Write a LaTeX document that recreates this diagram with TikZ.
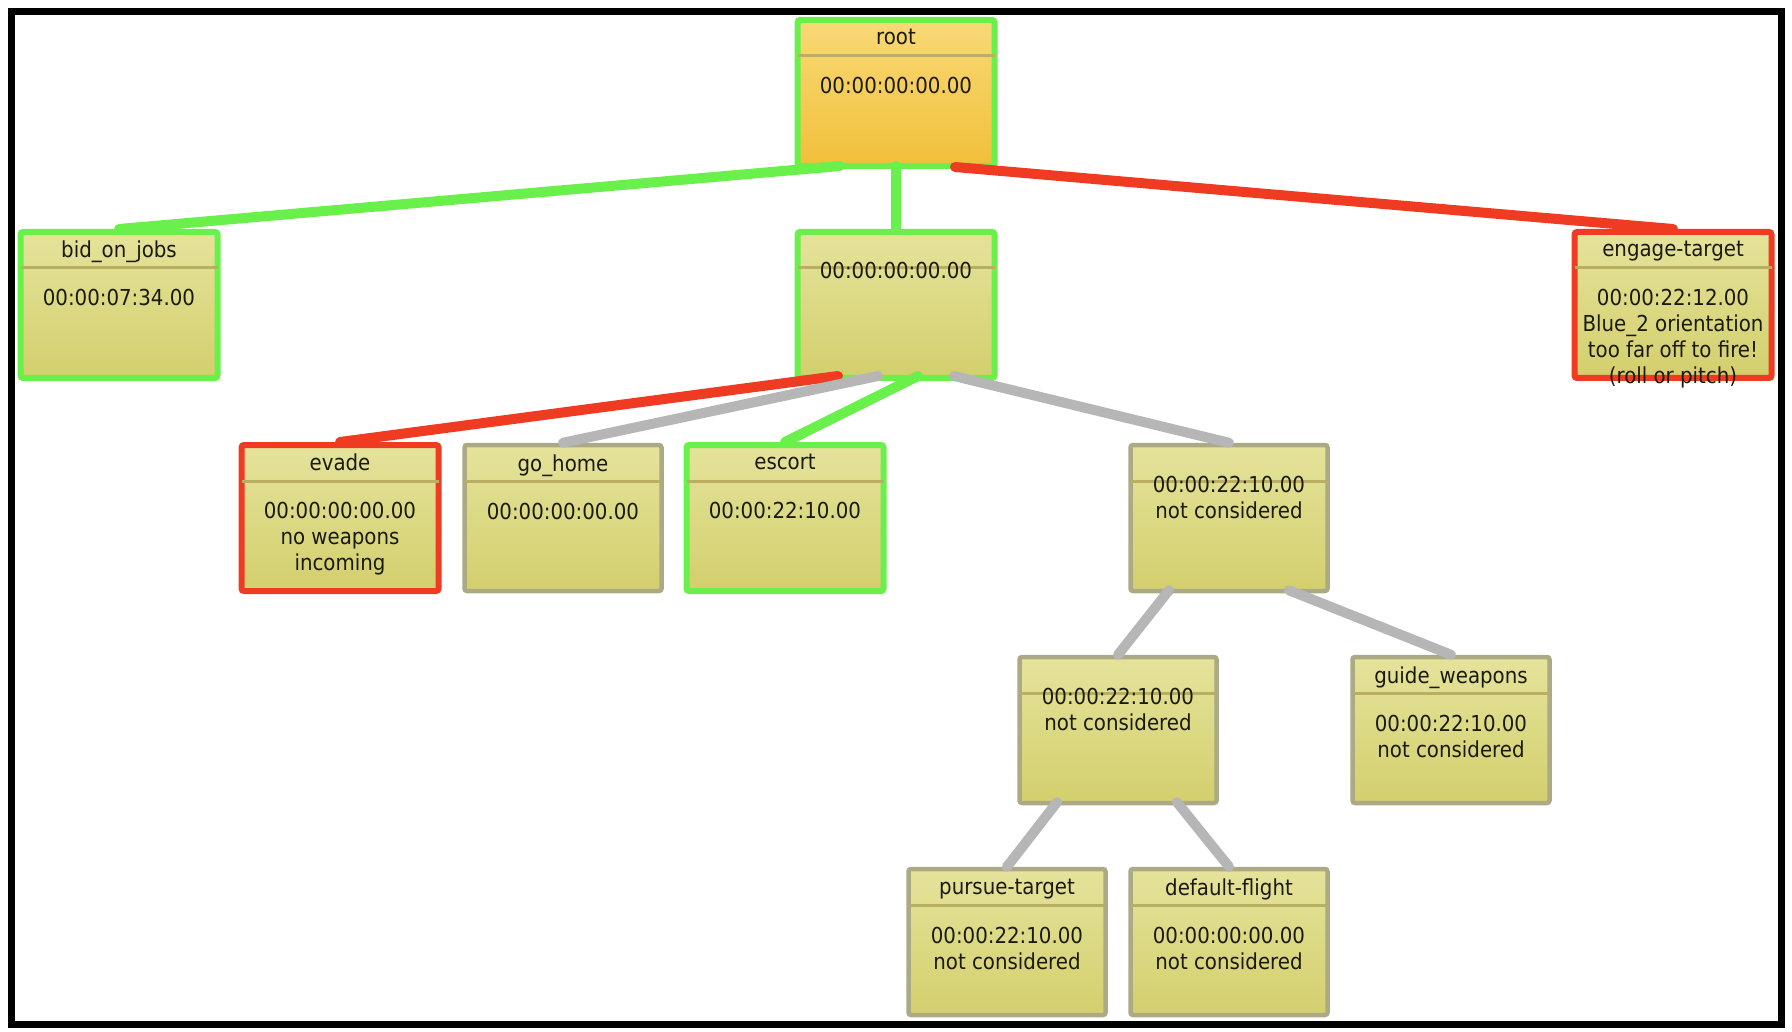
\documentclass[tikz,border=0pt]{standalone}
\usepackage{fontspec}
\setmainfont{DejaVu Sans Condensed}
\usetikzlibrary{calc}
\definecolor{boxtop}{HTML}{E5E39B}
\definecolor{boxbot}{HTML}{D3CF6D}
\definecolor{roottop}{HTML}{F8D977}
\definecolor{rootbot}{HTML}{F1C03A}
\definecolor{okgreen}{HTML}{69F04A}
\definecolor{badred}{HTML}{EE3B22}
\definecolor{boxgray}{HTML}{ABAA84}
\definecolor{sepcol}{HTML}{B8AF62}
\definecolor{edgegray}{HTML}{B6B6B6}
\definecolor{txtcol}{HTML}{1A1A10}
\tikzset{
  box/.style={rectangle, rounded corners=2.5pt, minimum width=197pt, minimum height=146pt,
    inner sep=0pt, line width=6pt, top color=boxtop, bottom color=boxbot},
  gbox/.style={box, draw=okgreen},
  rbox/.style={box, draw=badred},
  nbox/.style={box, draw=boxgray, line width=4.5pt},
  txt/.style={font=\fontsize{22}{26}\selectfont, text=txtcol, inner sep=0pt, align=center, anchor=north},
  sepline/.style={draw=sepcol, line width=3pt},
  edgeline/.style={line width=10pt, line cap=round},
  gedge/.style={edgeline, draw=okgreen},
  redge/.style={edgeline, draw=badred},
  nedge/.style={edgeline, draw=edgegray},
}
\begin{document}
\begin{tikzpicture}[x=1pt,y=-1pt]
\useasboundingbox (0,0) rectangle (1792,1032);
\draw[line width=7pt, black] (11,12) rectangle (1781,1024);

% boxes
\node[gbox, top color=roottop, bottom color=rootbot] (root) at (896,93) {};
\node[gbox] (bid) at (119,305) {};
\node[gbox] (mid) at (896,305) {};
\node[rbox] (engage) at (1673,305) {};
\node[rbox] (evade) at (340,518) {};
\node[nbox] (gohome) at (563,518) {};
\node[gbox] (escort) at (785,518) {};
\node[nbox] (nfour) at (1229,518) {};
\node[nbox] (nfive) at (1118,730) {};
\node[nbox] (guide) at (1451,730) {};
\node[nbox] (pursue) at (1007,942) {};
\node[nbox] (default) at (1229,942) {};

% separators
\foreach \n in {root,bid,mid,engage,evade,gohome,escort,nfour,nfive,guide,pursue,default}{
  \draw[sepline] ($(\n.north west)+(3,39)$) -- ($(\n.north east)+(-3,39)$);
}

% header texts
\node[txt] (rootH) at ($(root.north)+(0,12)$) {root};
\node[txt] (bidH) at ($(bid.north)+(0,12)$) {bid\_on\_jobs};
\node[txt] (engageH) at ($(engage.north)+(0,12)$) {engage-target};
\node[txt] (evadeH) at ($(evade.north)+(0,12)$) {evade};
\node[txt] (gohomeH) at ($(gohome.north)+(0,12)$) {go\_home};
\node[txt] (escortH) at ($(escort.north)+(0,12)$) {escort};
\node[txt] (guideH) at ($(guide.north)+(0,12)$) {guide\_weapons};
\node[txt] (pursueH) at ($(pursue.north)+(0,12)$) {pursue-target};
\node[txt] (defaultH) at ($(default.north)+(0,12)$) {default-flight};

% body texts
\node[txt] (rootB) at ($(root.north)+(0,60)$) {00:00:00:00.00};
\node[txt] (bidB) at ($(bid.north)+(0,60)$) {00:00:07:34.00};
\node[txt] (midB) at ($(mid.north)+(0,33)$) {00:00:00:00.00};
\node[txt] (engageB) at ($(engage.north)+(0,60)$) {00:00:22:12.00\\Blue\_2 orientation\\too far off to fire!\\(roll or pitch)};
\node[txt] (evadeB) at ($(evade.north)+(0,60)$) {00:00:00:00.00\\no weapons\\incoming};
\node[txt] (gohomeB) at ($(gohome.north)+(0,60)$) {00:00:00:00.00};
\node[txt] (escortB) at ($(escort.north)+(0,60)$) {00:00:22:10.00};
\node[txt] (nfourB) at ($(nfour.north)+(0,33)$) {00:00:22:10.00\\not considered};
\node[txt] (nfiveB) at ($(nfive.north)+(0,33)$) {00:00:22:10.00\\not considered};
\node[txt] (guideB) at ($(guide.north)+(0,60)$) {00:00:22:10.00\\not considered};
\node[txt] (pursueB) at ($(pursue.north)+(0,60)$) {00:00:22:10.00\\not considered};
\node[txt] (defaultB) at ($(default.north)+(0,60)$) {00:00:00:00.00\\not considered};

% attachment points
\coordinate (rootL) at ($(root.south)+(-56,-3)$);
\coordinate (rootC) at ($(root.south)+(0,-3)$);
\coordinate (rootR) at ($(root.south)+(59,-2)$);
\coordinate (midA) at ($(mid.south)+(-58,-5)$);
\coordinate (midB) at ($(mid.south)+(-18,-5)$);
\coordinate (midC) at ($(mid.south)+(22,-5)$);
\coordinate (midD) at ($(mid.south)+(58,-5)$);
\coordinate (nfourL) at ($(nfour.south)+(-60,-3)$);
\coordinate (nfourR) at ($(nfour.south)+(60,-3)$);
\coordinate (nfiveL) at ($(nfive.south)+(-61,-3)$);
\coordinate (nfiveR) at ($(nfive.south)+(59,-3)$);

% edges
\draw[gedge] (rootL) -- (bid.north);
\draw[gedge] (rootC) -- (mid.north);
\draw[redge] (rootR) -- (engage.north);
\draw[redge] (midA) -- (evade.north);
\draw[nedge] (midB) -- (gohome.north);
\draw[gedge] (midC) -- (escort.north);
\draw[nedge] (midD) -- (nfour.north);
\draw[nedge] (nfourL) -- (nfive.north);
\draw[nedge] (nfourR) -- (guide.north);
\draw[nedge] (nfiveL) -- (pursue.north);
\draw[nedge] (nfiveR) -- (default.north);
\end{tikzpicture}
\end{document}
